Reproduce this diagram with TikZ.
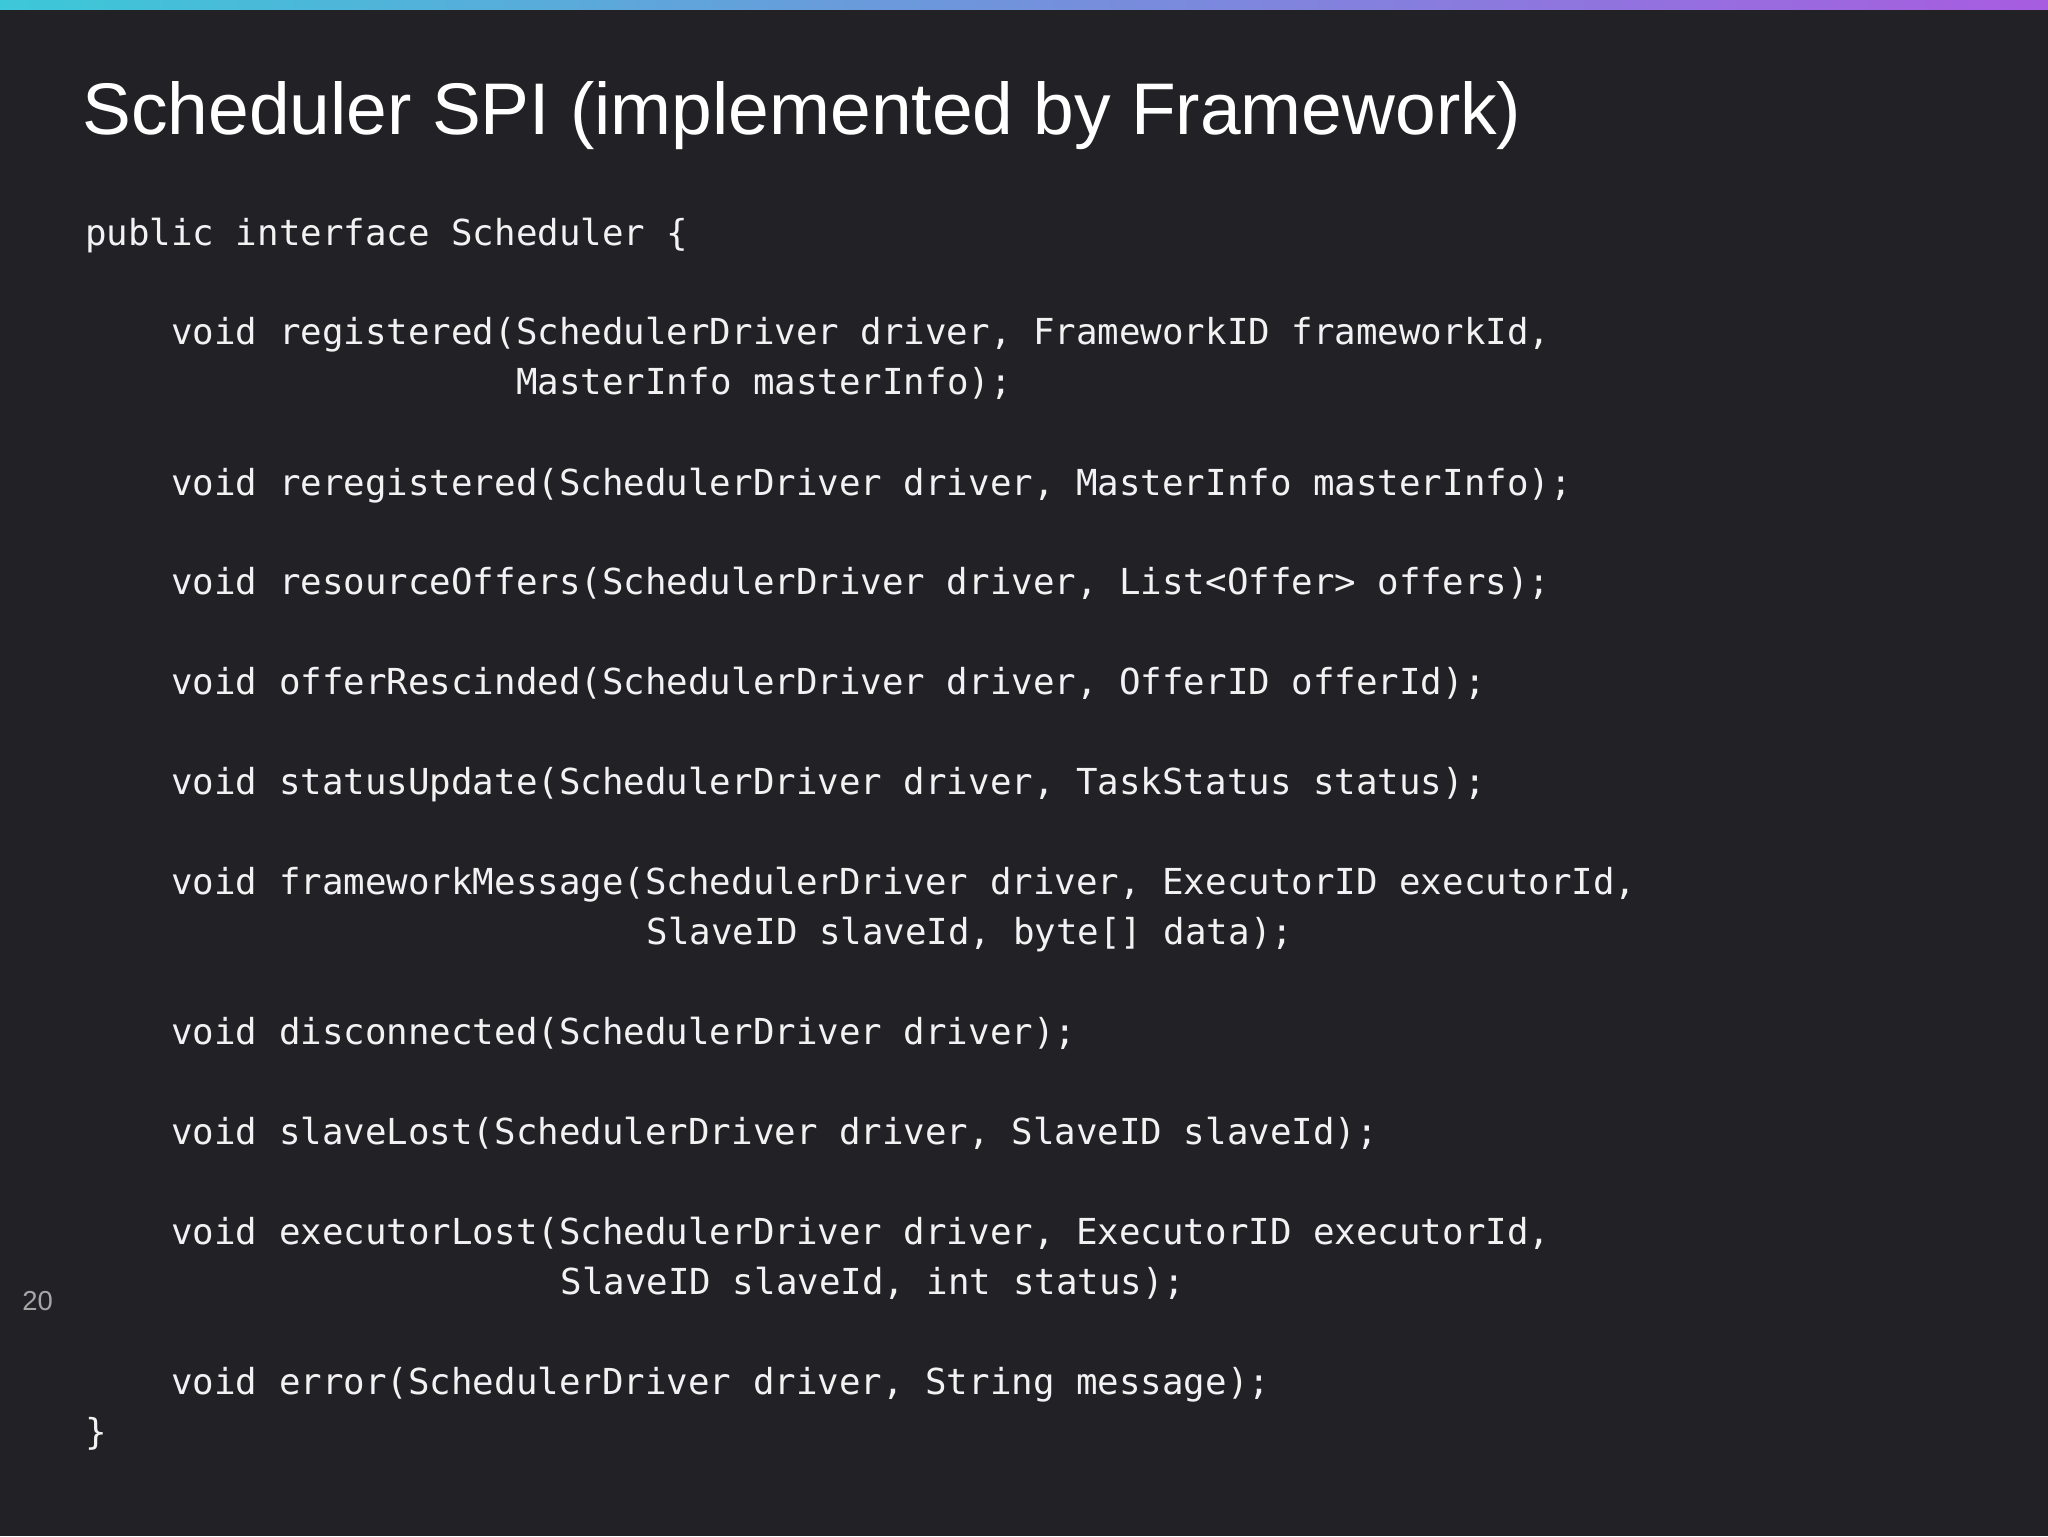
\documentclass[tikz,border=0pt]{standalone}
\usepackage{fontspec}
\setmainfont{Liberation Sans}
\newfontfamily\codefont{DejaVu Sans Mono}
\definecolor{bg}{HTML}{222226}
\definecolor{fg}{HTML}{F2F2F2}
\definecolor{barL}{HTML}{3CC8D8}
\definecolor{barR}{HTML}{A85CE0}
\begin{document}
\begin{tikzpicture}[x=1pt,y=-1pt,
  code/.style={anchor=base west,inner sep=0pt,text=fg,font=\codefont\fontsize{27.4}{30}\selectfont},
  title/.style={anchor=base west,inner sep=0pt,text=white,font=\fontsize{56}{60}\selectfont}]
\fill[bg] (0,0) rectangle (1568,1176);
\useasboundingbox (0,0) rectangle (1568,1176);
\shade[left color=barL,right color=barR] (0,0) rectangle (1568,7);
\node[title] (t) at (63,103) {Scheduler SPI (implemented by Framework)};
\node[anchor=base west,inner sep=0pt,text=gray!70,font=\fontsize{21}{24}\selectfont] (pg) at (17,1003) {20};
\node[code] (l1) at (65,188) {public interface Scheduler \{};
\node[code] (l2) at (131,264) {void registered(SchedulerDriver driver, FrameworkID frameworkId,};
\node[code] (l3) at (395,302) {MasterInfo masterInfo);};
\node[code] (l4) at (131,379) {void reregistered(SchedulerDriver driver, MasterInfo masterInfo);};
\node[code] (l5) at (131,455) {void resourceOffers(SchedulerDriver driver, List<Offer> offers);};
\node[code] (l6) at (131,532) {void offerRescinded(SchedulerDriver driver, OfferID offerId);};
\node[code] (l7) at (131,608) {void statusUpdate(SchedulerDriver driver, TaskStatus status);};
\node[code] (l8) at (131,685) {void frameworkMessage(SchedulerDriver driver, ExecutorID executorId,};
\node[code] (l9) at (495,723) {SlaveID slaveId, byte[] data);};
\node[code] (l10) at (131,800) {void disconnected(SchedulerDriver driver);};
\node[code] (l11) at (131,876) {void slaveLost(SchedulerDriver driver, SlaveID slaveId);};
\node[code] (l12) at (131,953) {void executorLost(SchedulerDriver driver, ExecutorID executorId,};
\node[code] (l13) at (429,991) {SlaveID slaveId, int status);};
\node[code] (l14) at (131,1068) {void error(SchedulerDriver driver, String message);};
\node[code] (l15) at (65,1106) {\}};
\end{tikzpicture}
\end{document}
